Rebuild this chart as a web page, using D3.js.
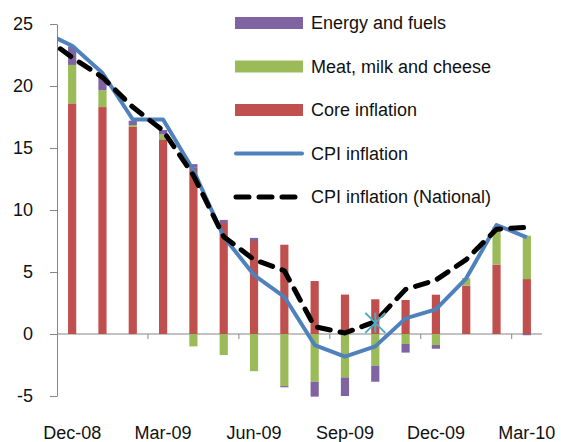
<!DOCTYPE html>
<html>
<head>
<meta charset="utf-8">
<script src="https://cdn.jsdelivr.net/npm/d3@7"></script>
<style>
body { margin: 0; background: #fff; }
text { font-family: "Liberation Sans", Arial, sans-serif; fill: #111; }
</style>
</head>
<body>
<script>
// months shown as bars; lines also carry the Nov-08 value (clipped at the axis)
var months = ["Dec-08","Jan-09","Feb-09","Mar-09","Apr-09","May-09","Jun-09","Jul-09",
              "Aug-09","Sep-09","Oct-09","Nov-09","Dec-09","Jan-10","Feb-10","Mar-10"];
var lineMonths = ["Nov-08"].concat(months);
var labelMonths = ["Dec-08","Mar-09","Jun-09","Sep-09","Dec-09","Mar-10"];
var tickMonths = ["Mar-09","Jun-09","Sep-09","Dec-09","Mar-10"];
var yTicks = [-5, 0, 5, 10, 15, 20, 25];

var core   = [18.6, 18.3, 16.7, 15.7, 13.4, 8.95, 7.5, 7.2, 4.27, 3.18, 2.8, 2.74, 3.17, 3.9, 5.6, 4.43];
var meat   = [3.1, 1.35, 0.15, 0.4, -1.0, -1.7, -3.0, -4.2, -3.85, -3.5, -2.55, -0.8, -0.89, 0.6, 2.9, 3.5];
var energy = [1.5, 1.2, 0.35, 0.35, 0.3, 0.25, 0.25, -0.1, -1.2, -1.5, -1.3, -0.7, -0.3, 0, 0.1, -0.1];

var cpi      = [24.4, 23.25, 21.05, 17.3, 17.3, 13.2, 7.85, 4.75, 3.0, -0.89, -1.83, -1.0, 1.26, 1.99, 4.49, 8.79, 7.8];
var national = [24.1, 22.3, 20.7, 18.3, 16.4, 12.8, 7.85, 6.0, 5.1, 0.59, 0.08, 1.0, 3.6, 4.35, 6.0, 8.45, 8.6];
var marker = {month: "Oct-09", value: 0.9};

var keys = ["core", "meat", "energy"];
var names = {energy: "Energy and fuels", meat: "Meat, milk and cheese", core: "Core inflation"};
var colors = {core: "#c0504d", meat: "#9bbb59", energy: "#8064a2"};

var svg = d3.select("body").append("svg")
  .attr("width", 561)
  .attr("height", 442);

var plotLeft = 57, plotRight = 542, plotTop = 24, plotBottom = 396;
var step = (plotRight - plotLeft) / months.length;

var x = d3.scaleBand()
  .domain(lineMonths)
  .range([plotLeft - step, plotRight])
  .paddingInner(0.73)
  .paddingOuter(0.365);
var cx = function(m) { return x(m) + x.bandwidth() / 2; };

var y = d3.scaleLinear()
  .domain([-5, 25])
  .range([plotBottom, plotTop]);

svg.append("defs").append("clipPath").attr("id", "plot")
  .append("rect").attr("x", plotLeft).attr("y", 0).attr("width", plotRight - plotLeft).attr("height", 442);

// y axis
svg.append("g")
  .attr("transform", "translate(" + plotLeft + ",0)")
  .call(d3.axisLeft(y).tickValues(yTicks).tickSize(7).tickSizeOuter(0).tickPadding(17)
    .tickFormat(function(d) { return String(d); }))
  .call(function(g) {
    g.selectAll("path,line").attr("stroke", "#868686");
    g.selectAll("text").style("font-size", "18px").attr("fill", "#111");
  });

// zero line with category ticks
svg.append("line")
  .attr("x1", plotLeft).attr("x2", plotRight)
  .attr("y1", y(0)).attr("y2", y(0))
  .attr("stroke", "#868686");

svg.selectAll(".xtick")
  .data(tickMonths)
  .enter().append("line")
  .attr("class", "xtick")
  .attr("x1", function(d) { return cx(d) - x.step() / 2; })
  .attr("x2", function(d) { return cx(d) - x.step() / 2; })
  .attr("y1", y(0)).attr("y2", y(0) + 5)
  .attr("stroke", "#868686");

// x labels at the bottom
svg.append("g")
  .attr("transform", "translate(0," + plotBottom + ")")
  .call(d3.axisBottom(x).tickValues(labelMonths).tickSize(0).tickPadding(30))
  .call(function(g) {
    g.select(".domain").remove();
    g.selectAll("text").style("font-size", "18px").attr("fill", "#111");
  });

// stacked bars
var rows = months.map(function(m, i) {
  return {month: m, core: core[i], meat: meat[i], energy: energy[i]};
});
var stack = d3.stack().keys(keys).offset(d3.stackOffsetDiverging);

svg.append("g").selectAll("g")
  .data(stack(rows))
  .enter().append("g")
  .attr("fill", function(d) { return colors[d.key]; })
  .selectAll("rect")
  .data(function(d) { return d; })
  .enter().append("rect")
  .attr("x", function(d) { return x(d.data.month); })
  .attr("width", x.bandwidth())
  .attr("y", function(d) { return y(Math.max(d[0], d[1])); })
  .attr("height", function(d) { return Math.abs(y(d[0]) - y(d[1])); });

// lines
var line = function(vals) {
  return d3.line()
    .x(function(d, i) { return cx(lineMonths[i]); })
    .y(function(d) { return y(d); })(vals);
};

var lines = svg.append("g").attr("clip-path", "url(#plot)");
lines.append("path")
  .attr("d", line(cpi))
  .attr("fill", "none")
  .attr("stroke", "#4f81bd")
  .attr("stroke-width", 4)
  .attr("stroke-linejoin", "round");

lines.append("path")
  .attr("d", line(national))
  .attr("fill", "none")
  .attr("stroke", "#000")
  .attr("stroke-width", 5)
  .attr("stroke-dasharray", "13,10")
  .attr("stroke-linecap", "round")
  .attr("stroke-linejoin", "round");

// star marker
var star = {
  draw: function(ctx, size) {
    var r = Math.sqrt(size) / 2;
    ctx.moveTo(-r, -r); ctx.lineTo(r, r);
    ctx.moveTo(-r, r); ctx.lineTo(r, -r);
    ctx.moveTo(0, -r); ctx.lineTo(0, r);
  }
};
svg.append("path")
  .attr("d", d3.symbol().type(star).size(400)())
  .attr("transform", "translate(" + cx(marker.month) + "," + y(marker.value) + ")")
  .attr("fill", "none")
  .attr("stroke", "#4bacc6")
  .attr("stroke-width", 2);

// legend
var legendItems = [
  {key: "energy", type: "rect"},
  {key: "meat", type: "rect"},
  {key: "core", type: "rect"},
  {key: "cpi", type: "line", name: "CPI inflation"},
  {key: "national", type: "dash", name: "CPI inflation (National)"}
];

var legend = svg.selectAll(".legend")
  .data(legendItems)
  .enter().append("g")
  .attr("class", "legend")
  .attr("transform", function(d, i) { return "translate(235," + (23 + i * 43.5) + ")"; });

legend.filter(function(d) { return d.type == "rect"; })
  .append("rect")
  .attr("x", 0).attr("y", -6)
  .attr("width", 68).attr("height", 12)
  .attr("fill", function(d) { return colors[d.key]; });

legend.filter(function(d) { return d.type == "line"; })
  .append("line")
  .attr("x1", 1).attr("x2", 67)
  .attr("stroke", "#4f81bd").attr("stroke-width", 4).attr("stroke-linecap", "round");

legend.filter(function(d) { return d.type == "dash"; })
  .append("line")
  .attr("x1", 1).attr("x2", 63)
  .attr("stroke", "#000").attr("stroke-width", 5)
  .attr("stroke-dasharray", "13,10").attr("stroke-linecap", "round");

legend.append("text")
  .attr("x", 76)
  .attr("dy", "0.35em")
  .style("font-size", "18px")
  .text(function(d) { return d.name || names[d.key]; });
</script>
</body>
</html>
